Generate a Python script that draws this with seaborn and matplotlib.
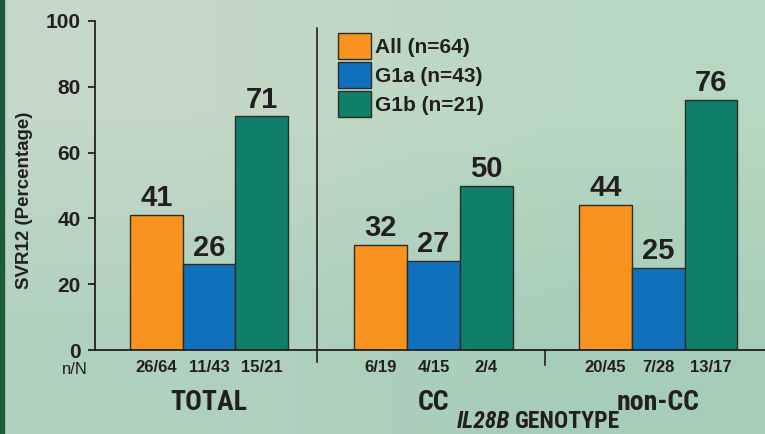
import os
import numpy as np
import pandas as pd
import matplotlib
matplotlib.use("Agg")
import matplotlib.pyplot as plt
import matplotlib.transforms as mtransforms
from matplotlib import font_manager as fm
import seaborn as sns

# ---- data ----
groups = ["TOTAL", "CC", "non-CC"]
series = ["All (n=64)", "G1a (n=43)", "G1b (n=21)"]
svr_all = [41, 32, 44]
svr_g1a = [26, 27, 25]
svr_g1b = [71, 50, 76]
nN_all = ["26/64", "6/19", "20/45"]
nN_g1a = ["11/43", "4/15", "7/28"]
nN_g1b = ["15/21", "2/4", "13/17"]
y_ticks = [0, 20, 40, 60, 80, 100]

colors = ["#f7931e", "#1170bb", "#0f7f6a"]
ink = "#231f20"

names = {f.name for f in fm.fontManager.ttflist}
BASE = "Liberation Sans" if "Liberation Sans" in names else "DejaVu Sans"
plt.rcParams["font.family"] = [BASE, "DejaVu Sans"]


def find_narrow(italic=False):
    """Look for a condensed bold face among the installed fonts."""
    want = ["liberationsansnarrow-bold" + ("italic" if italic else ""),
            "robotocondensed-bold" + ("italic" if italic else ""),
            "dejavusanscondensed-bold" + ("oblique" if italic else "")]
    files = {os.path.splitext(os.path.basename(f.fname))[0].lower(): f.fname
             for f in fm.fontManager.ttflist}
    for w in want:
        if w in files:
            return fm.FontProperties(fname=files[w])
    return None


narrow = find_narrow()
narrow_it = find_narrow(italic=True)
if narrow is None:
    narrow = fm.FontProperties(family=BASE, weight="bold")
    cat_size, title_size = 17.5, 15
else:
    cat_size, title_size = 20, 17
if narrow_it is None:
    narrow_it = fm.FontProperties(family=BASE, weight="bold", style="italic")

df = pd.DataFrame({
    "group": groups * 3,
    "series": np.repeat(series, len(groups)).tolist(),
    "value": svr_all + svr_g1a + svr_g1b,
})
nN = [nN_all, nN_g1a, nN_g1b]

W, H = 765, 434
fig = plt.figure(figsize=(W / 100, H / 100), dpi=100)

# soft green background gradient
bg = fig.add_axes([0, 0, 1, 1], zorder=-10)
grad = np.array([[[0.776, 0.847, 0.780], [0.725, 0.847, 0.757]],
                 [[0.694, 0.820, 0.749], [0.651, 0.804, 0.722]]])
bg.imshow(grad, extent=[0, 1, 0, 1], aspect="auto", interpolation="bilinear")
bg.axvspan(0, 3.5 / W, color="#1d5b36")
bg.set_xlim(0, 1)
bg.set_ylim(0, 1)
bg.axis("off")

ax_left, ax_right = 95, 765
ax_top, ax_bot = 21, 350
ax = fig.add_axes([ax_left / W, 1 - ax_bot / H, (ax_right - ax_left) / W, (ax_bot - ax_top) / H])
ax.set_facecolor("none")

sns.barplot(data=df, x="group", y="value", hue="series", order=groups,
            hue_order=series, palette=colors, width=0.705, saturation=1,
            edgecolor="#2b2b2b", linewidth=1.0, ax=ax, legend=True, errorbar=None)

ax.set_xlim(-0.508, 2.476)
ax.set_ylim(0, 100)

for s in ["top", "right"]:
    ax.spines[s].set_visible(False)
for s in ["left", "bottom"]:
    ax.spines[s].set_color(ink)
    ax.spines[s].set_linewidth(1.3)

ax.set_yticks(y_ticks)
ax.set_yticklabels([str(t) for t in y_ticks], fontsize=15, fontweight="bold", color=ink)
ax.tick_params(axis="y", direction="out", length=5, width=1.3, pad=5.5, color=ink)
ax.tick_params(axis="x", length=0, pad=28)
ax.set_xticks(range(len(groups)))
ax.set_xticklabels(groups, color=ink)
for lbl in ax.get_xticklabels():
    lbl.set_fontproperties(narrow)
    lbl.set_fontsize(cat_size)
ax.set_xlabel("")
ax.set_ylabel("SVR12 (Percentage)", fontsize=13.5, fontweight="bold", color=ink)
ax.yaxis.set_label_coords((33 - 95) / 670, (350 - 200) / 329)

# value labels and n/N counts under each bar
trans = mtransforms.blended_transform_factory(ax.transData, ax.transAxes)
for cont, counts in zip(ax.containers, nN):
    ax.bar_label(cont, fmt="%d", padding=2, fontsize=21, fontweight="bold", color=ink)
    for patch, txt in zip(cont.patches, counts):
        xc = patch.get_x() + patch.get_width() / 2
        ax.text(xc, -0.052, txt, transform=trans, ha="center", va="center",
                fontsize=12, fontweight="bold", color=ink)

ax.text(-0.0105, -0.058, "n/N", transform=ax.transAxes, ha="right", va="center",
        fontsize=12, color=ink)

# group separators
ax.plot([0.481, 0.481], [0.979, -0.036], transform=trans, color=ink, lw=1.2, clip_on=False)
ax.plot([1.497, 1.497], [0.0, -0.046], transform=trans, color=ink, lw=1.2, clip_on=False)

# legend
handles, labels = ax.get_legend_handles_labels()
leg = ax.legend(handles, labels, loc="upper left", bbox_to_anchor=(0.3627, 0.9635),
                frameon=False, borderpad=0, borderaxespad=0, handlelength=1.56,
                handleheight=1.52, labelspacing=0.17, handletextpad=0.2,
                prop={"family": BASE, "weight": "bold", "size": 15})
for p in leg.get_patches():
    p.set_edgecolor("#2b2b2b")
    p.set_linewidth(1.0)
for t in leg.get_texts():
    t.set_color(ink)

# axis title
t1 = fig.text(510 / W, 6 / H, "IL28B", ha="right", va="baseline",
              fontproperties=narrow_it, color=ink)
t2 = fig.text(515 / W, 6 / H, "GENOTYPE", ha="left", va="baseline",
              fontproperties=narrow, color=ink)
t1.set_fontsize(title_size)
t2.set_fontsize(title_size)

fig.savefig("out.png", dpi=100)
